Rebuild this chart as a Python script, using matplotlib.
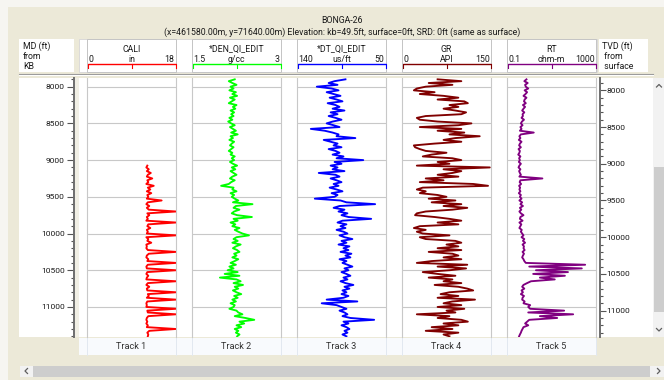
import numpy as np
import matplotlib
matplotlib.use('Agg')
import matplotlib.pyplot as plt
from matplotlib.patches import Rectangle
from matplotlib.ticker import MultipleLocator, FuncFormatter

plt.rcParams['font.family'] = ['Roboto', 'DejaVu Sans']

# ── Log data (25 ft samples) ───────────────────────────────────────────────────
DEPTH = np.arange(7900, 11401, 25)          # MD sample depths, ft
CALI_DEPTH = np.arange(9075, 11401, 25)     # caliper only logged below ~9075 ft

GR = [
    60, 100, 45, 85,     40, 25, 20, 55,     30, 70, 95, 60,     105, 111, 80, 95,
    70, 90, 108, 100,    40, 25, 30, 60,     117, 95, 30, 100,   60, 105, 80, 131,
    90, 70, 100, 55,     20, 22, 30, 40,     75, 50, 35, 85,     100, 60, 80, 25,
    148, 70, 100, 85,    60, 95, 40, 70,     30, 120, 145, 35,   25, 40, 30, 60,
    75, 45, 90, 50,      100, 70, 110, 85,   40, 25, 22, 55,     80, 100, 60, 95,
    30, 20, 40, 25,      35, 80, 30, 40,     90, 100, 75, 95,    60, 100, 45, 85,
    95, 70, 100, 50,     25, 110, 60, 108,   80, 35, 60, 90,     45, 85, 70, 100,
    55, 95, 110, 120,    80, 65, 95, 60,     123, 85, 70, 100,   60, 105, 75, 90,
    25, 80, 60, 100,     111, 70, 95, 50,    85, 40, 95, 70,     80,
]

DEN = [
    2.22, 2.12, 2.18, 2.25,  2.15, 2.20, 2.13, 2.24,  2.18, 2.26, 2.14, 2.22,  2.17, 2.12, 2.25, 2.19,
    2.23, 2.15, 2.21, 2.16,  2.20, 2.13, 2.18, 2.11,  2.16, 2.22, 2.14, 2.19,  2.24, 2.16, 2.27, 2.15,
    2.19, 2.13, 2.21, 2.17,  2.14, 2.20, 2.16, 2.12,  2.18, 2.15, 2.22, 2.17,  2.21, 2.14, 2.19, 2.26,
    2.17, 2.23, 2.15, 2.20,  2.25, 2.18, 2.14, 2.22,  2.16, 2.12, 1.99, 2.20,  2.18, 2.25, 2.15, 2.21,
    2.17, 2.22, 2.28, 2.19,  2.52, 2.24, 2.20, 2.30,  2.21, 2.17, 2.26, 2.51,  2.20, 2.27, 2.15, 2.23,
    2.18, 2.30, 2.22, 2.28,  2.35, 2.46, 2.25, 2.20,  2.27, 2.18, 2.32, 2.24,  2.19, 2.26, 2.30, 2.21,
    2.25, 2.18, 2.28, 2.22,  2.15, 2.24, 2.13, 2.20,  2.10, 2.27, 2.05, 2.30,  1.97, 2.25, 2.32, 2.20,
    2.36, 2.22, 2.28, 2.19,  2.25, 2.33, 2.21, 2.27,  2.18, 2.24, 2.15, 2.22,  2.20, 2.13, 2.25, 2.28,
    2.35, 2.22, 2.40, 2.55,  2.30, 2.38, 2.25, 2.33,  2.22, 2.28, 2.24, 2.30,  2.26,
]

DT = [
    91, 102, 108, 99,    120, 105, 98, 110,   103, 96, 107, 100,   94, 109, 101, 97,
    104, 92, 106, 99,    108, 101, 95, 104,   110, 103, 97, 126,   112, 104, 98, 100,
    81, 113, 106, 99,    103, 95, 108, 101,   97, 104, 93, 100,    73, 102, 95, 106,
    99, 104, 92, 118,    101, 97, 106, 100,   95, 103, 98, 107,    100, 94, 105, 99,
    102, 122, 96, 90,    61, 97, 103, 92,     98, 89, 95, 88,      65, 94, 99, 90,
    96, 91, 100, 93,     89, 97, 92, 84,      95, 90, 98, 87,      93, 88, 96, 85,
    91, 86, 97, 90,      94, 89, 84, 92,      88, 95, 90, 86,      93, 89, 96, 91,
    83, 92, 87, 94,      90, 95, 88, 93,      110, 79, 115, 100,   95, 90, 97, 92,
    89, 94, 86, 62,      93, 88, 95, 90,      87, 92, 89, 94,      90,
]

RT = [
    0.75, 0.60, 0.85, 0.65,  0.70, 0.90, 0.62, 0.80,  0.68, 0.55, 0.75, 0.62,  0.58, 0.70, 0.52, 0.65,
    0.55, 0.48, 0.60, 0.50,  0.52, 0.45, 0.58, 0.47,  0.42, 0.50, 0.40, 0.45,  0.38, 1.6, 0.42, 0.36,
    0.40, 0.34, 0.45, 0.38,  0.35, 0.42, 0.33, 0.38,  0.36, 0.32, 0.40, 0.35,  0.38, 0.34, 0.42, 0.36,
    0.33, 0.40, 0.35, 0.38,  0.42, 0.36, 3.9, 0.40,   0.37, 0.43, 0.35, 0.39,  0.36, 0.40, 0.34, 0.42,
    0.38, 0.45, 0.36, 0.48,  0.40, 0.52, 0.38, 0.44,  0.36, 0.42, 0.55, 0.40,  0.38, 0.50, 0.36, 0.44,
    0.40, 0.36, 0.46, 0.42,  0.48, 0.55, 0.45, 0.60,  0.52, 0.65, 0.50, 0.58,  0.55, 0.62, 0.50, 0.58,
    0.52, 0.48, 0.55, 0.60,  0.7, 325, 1.0, 230,      2.0, 55, 1.5, 40,        3.0, 14, 1.2, 0.8,
    0.55, 0.48, 0.60, 0.45,  0.52, 0.42, 0.58, 0.50,  0.48, 0.62, 0.55, 1.1,   0.9, 1.1, 37, 0.9,
    94, 3.0, 18, 1.0,        0.8, 0.65, 0.9, 0.55,    0.5, 0.45, 0.42, 0.38,   0.35,
]

CALI = [
    12.2, 12.0, 12.5, 12.1, 12.9,
    12.3, 12.1, 13.2, 12.2,  12.4, 12.0, 13.5, 12.3,  12.8, 12.1, 13.0, 12.2,  12.4, 12.1, 15.1, 12.3,
    12.0, 12.6, 12.1, 12.5,  18.0, 12.2, 12.6, 12.1,  12.3, 12.0, 18.0, 12.4,  12.2, 12.8, 12.1, 12.3,
    12.1, 18.0, 12.0, 12.4,  12.2, 13.0, 12.0, 12.1,  12.0, 12.3, 18.0, 12.5,  12.1, 12.0, 12.4, 12.2,
    18.0, 12.3, 12.0, 12.1,  18.0, 12.2, 12.0, 12.4,  12.1, 12.0, 18.0, 12.3,  12.0, 12.6, 12.1, 12.2,
    18.0, 12.3, 12.5, 12.1,  18.0, 12.2, 12.0, 12.1,  12.0, 18.0, 12.2, 12.3,  18.0, 12.4, 12.1, 12.0,
    12.2, 12.0, 12.3, 12.1,  18.0, 12.6, 12.2, 12.4,  12.3,
]

TRACK_NAMES = ['CALI', '*DEN_QI_EDIT', '*DT_QI_EDIT', 'GR', 'RT']
TRACK_UNITS = ['in', 'g/cc', 'us/ft', 'API', 'ohm-m']
TRACK_MIN_LABEL = ['0', '1.5', '140', '0', '0.1']
TRACK_MAX_LABEL = ['18', '3', '50', '150', '1000']
TRACK_LIMITS = [(0, 18), (1.5, 3), (140, 50), (0, 150), (0.1, 1000)]
TRACK_COLORS = ['#FF0000', '#00FF00', '#0000FF', '#800000', '#800080']
TRACK_LABELS = ['Track 1', 'Track 2', 'Track 3', 'Track 4', 'Track 5']

KB = 49.5
MD_GRID = [8000, 8500, 9000, 9500, 10000, 10500, 11000]

# ── Layout (pixels) ───────────────────────────────────────────────────────────
W, H = 664, 380
BEIGE = '#ECE9D8'
GRID = '#C8C8C8'
TEXT = '#1A1A1A'
TRACK_LEFT = [87, 192, 297, 402, 507]
TRACK_W = 89
PLOT_TOP, PLOT_BOT = 78.3, 336.7
YLIM = (11405, 7886)
FS = 6.3

fig = plt.figure(figsize=(W / 100, H / 100), dpi=100)
fig.patch.set_facecolor('#F6F5F1')

bg = fig.add_axes([0, 0, 1, 1])
bg.set_xlim(0, W)
bg.set_ylim(H, 0)
bg.axis('off')


def box(x0, y0, x1, y1, fc, ec='none', lw=0.7, z=1):
    bg.add_patch(Rectangle((x0, y0), x1 - x0, y1 - y0, facecolor=fc,
                           edgecolor=ec, linewidth=lw, zorder=z))


def px_axes(x0, y0, x1, y1):
    return fig.add_axes([x0 / W, 1 - y1 / H, (x1 - x0) / W, (y1 - y0) / H])


box(8, 7, W, H, BEIGE, z=0)

# title
bg.text(342, 20.5, 'BONGA-26', ha='center', va='center', fontsize=FS, color=TEXT)
bg.text(342, 32, '(x=461580.00m, y=71640.00m) Elevation: kb=49.5ft, surface=0ft, '
        'SRD: 0ft (same as surface)', ha='center', va='center', fontsize=FS, color=TEXT)

# ── Header row ────────────────────────────────────────────────────────────────
box(19, 39, 74, 72, 'white')
box(79, 39, 597, 72, 'white', ec='#D6D6D6', lw=0.6)
box(599, 39, 648, 72, 'white')
for i, line in enumerate(['MD (ft)', 'from', 'KB']):
    bg.text(23, 46.5 + 10 * i, line, ha='left', va='center', fontsize=FS, color=TEXT)
for i, line in enumerate(['TVD (ft)', ' from', ' surface']):
    bg.text(601.5, 46.5 + 10 * i, line, ha='left', va='center', fontsize=FS, color=TEXT)

for i in range(5):
    x0 = TRACK_LEFT[i]
    x1 = x0 + TRACK_W
    xc = (x0 + x1) / 2
    col = TRACK_COLORS[i]
    box(x0, 39, x1, 72, 'white', ec='#C4C4C4', lw=0.7, z=2)
    bg.text(xc, 49, TRACK_NAMES[i], ha='center', va='center', fontsize=FS, color=TEXT, zorder=3)
    bg.text(x0 + 1.5, 59.3, TRACK_MIN_LABEL[i], ha='left', va='center', fontsize=FS, color=TEXT, zorder=3)
    bg.text(xc, 59.3, TRACK_UNITS[i], ha='center', va='center', fontsize=FS, color=TEXT, zorder=3)
    bg.text(x1 - 1.5, 59.3, TRACK_MAX_LABEL[i], ha='right', va='center', fontsize=FS, color=TEXT, zorder=3)
    bg.plot([x0 + 0.5, x1 - 0.5], [63.7, 63.7], color=col, lw=1.0, zorder=3, solid_capstyle='butt')
    for xt, yt in [(x0 + 0.5, 67.5), (xc, 68.3), (x1 - 0.5, 67.5)]:
        bg.plot([xt, xt], [63.7, yt], color=col, lw=0.8, zorder=3)

# separator under header
bg.plot([19, 653], [74.3, 74.3], color='#9C9C9C', lw=0.8, zorder=2)
bg.plot([19, 653], [75.4, 75.4], color='white', lw=0.7, zorder=2)

# ── Plot background ───────────────────────────────────────────────────────────
box(19, PLOT_TOP, 74.5, PLOT_BOT, 'white')
box(74.5, PLOT_TOP, 79, PLOT_BOT, '#F1EFE5')
box(79, PLOT_TOP, 653, PLOT_BOT, 'white')

# track label row
box(79, 338, 597, 354.5, '#F8FAFD')
for i in range(5):
    x0 = TRACK_LEFT[i]
    for xe in (x0, x0 + TRACK_W):
        bg.plot([xe, xe], [338, 354.5], color='#E2E8F0', lw=0.7, zorder=2)
    bg.text(x0 + TRACK_W / 2, 346.5, TRACK_LABELS[i], ha='center', va='center',
            fontsize=6.6, color='#333333', zorder=3)

# vertical scrollbar
box(653, PLOT_TOP, W, PLOT_BOT, '#F2F2F2')
box(654, 166.5, W, 312, '#CDCDCD')
bg.plot([656.5, 659, 661.5], [87, 84.5, 87], color='#606060', lw=0.9)
bg.plot([656.5, 659, 661.5], [328.5, 331, 328.5], color='#606060', lw=0.9)

# horizontal scrollbar
box(20, 365.5, W, 376.5, '#F2F2F2')
box(33, 365.5, 650, 376.5, '#CDCDCD')
bg.plot([27.5, 25, 27.5], [368.5, 371, 373.5], color='#606060', lw=0.9)
bg.plot([657.5, 660, 657.5], [368.5, 371, 373.5], color='#606060', lw=0.9)

# ── Tracks ────────────────────────────────────────────────────────────────────
curves = [(CALI_DEPTH, CALI), (DEPTH, DEN), (DEPTH, DT), (DEPTH, GR), (DEPTH, RT)]
for i, (depth, vals) in enumerate(curves):
    x0 = TRACK_LEFT[i]
    ax = px_axes(x0, PLOT_TOP, x0 + TRACK_W, PLOT_BOT)
    ax.set_facecolor('none')
    if i == 4:
        ax.set_xscale('log')
    ax.plot(vals, depth, color=TRACK_COLORS[i], lw=1.35)
    ax.set_xlim(*TRACK_LIMITS[i])
    ax.set_ylim(*YLIM)
    ax.set_yticks(MD_GRID)
    ax.yaxis.grid(True, color=GRID, lw=0.8)
    ax.xaxis.grid(False)
    ax.tick_params(which='both', left=False, labelleft=False, bottom=False, labelbottom=False)
    for s in ('top', 'bottom'):
        ax.spines[s].set_visible(False)
    for s in ('left', 'right'):
        ax.spines[s].set_color(GRID)
        ax.spines[s].set_linewidth(0.8)

# ── Depth axes ────────────────────────────────────────────────────────────────
int_fmt = FuncFormatter(lambda v, p: f'{v:.0f}')

ax_md = px_axes(74, PLOT_TOP, 75, PLOT_BOT)
ax_md.set_facecolor('none')
ax_md.set_ylim(*YLIM)
ax_md.set_xticks([])
for s in ('top', 'bottom', 'right'):
    ax_md.spines[s].set_visible(False)
ax_md.spines['left'].set_color('#6E6E6E')
ax_md.spines['left'].set_linewidth(1.4)
ax_md.yaxis.set_major_locator(MultipleLocator(500))
ax_md.yaxis.set_minor_locator(MultipleLocator(100))
ax_md.yaxis.set_major_formatter(int_fmt)
ax_md.tick_params(axis='y', which='major', direction='out', length=5, width=0.8,
                  color='#555555', labelsize=6, pad=1.5, labelcolor=TEXT)
ax_md.tick_params(axis='y', which='minor', direction='out', length=2.5, width=0.8, color='#555555')

ax_tvd = px_axes(599, PLOT_TOP, 600.3, PLOT_BOT)
ax_tvd.set_facecolor('none')
ax_tvd.set_ylim(YLIM[0] - KB, YLIM[1] - KB)
ax_tvd.set_xticks([])
for s in ('top', 'bottom', 'left'):
    ax_tvd.spines[s].set_visible(False)
ax_tvd.spines['right'].set_color('#6E6E6E')
ax_tvd.spines['right'].set_linewidth(1.4)
ax_tvd.yaxis.tick_right()
ax_tvd.yaxis.set_major_locator(MultipleLocator(500))
ax_tvd.yaxis.set_minor_locator(MultipleLocator(100))
ax_tvd.yaxis.set_major_formatter(int_fmt)
ax_tvd.tick_params(axis='y', which='major', direction='out', length=4, width=0.8,
                   color='#555555', labelsize=6, pad=0.5, labelcolor=TEXT)
ax_tvd.tick_params(axis='y', which='minor', direction='out', length=2.2, width=0.8, color='#555555')

fig.savefig('out.png', dpi=100, facecolor=fig.get_facecolor())
